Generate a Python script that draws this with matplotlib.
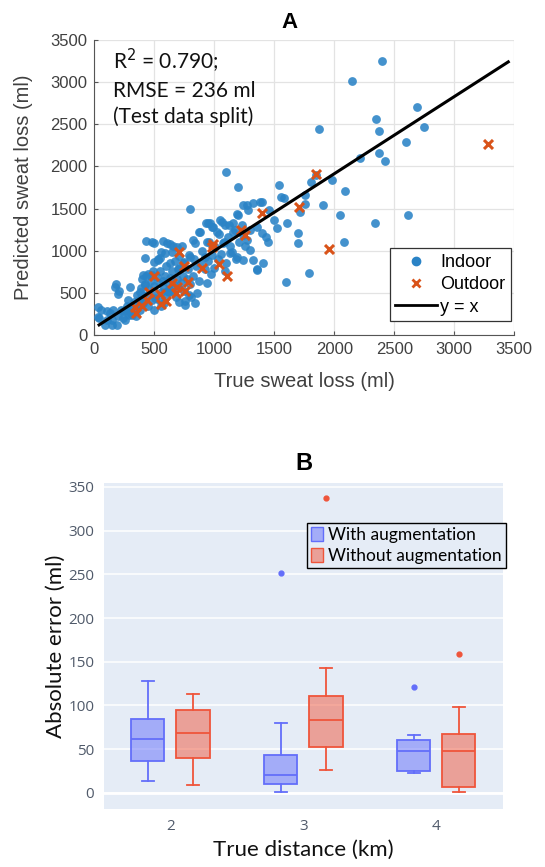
import numpy as np
import matplotlib
matplotlib.use("Agg")
import matplotlib.pyplot as plt
from matplotlib.patches import Patch
from matplotlib.lines import Line2D

# ---- panel A: sweat loss scatter (ml) ----
indoor_x = [30, 35, 40, 60, 90, 105, 110, 130, 150, 150, 160, 175, 180, 190, 200, 210, 200, 220, 240, 250,
            255, 260, 270, 280, 290, 300, 300,
            310, 315, 330, 340, 350, 360, 370, 370, 380, 385, 390, 395, 400, 400, 410, 410, 420, 425, 425,
            430, 435, 440, 450, 450, 460, 470, 480, 480, 485, 490, 495, 500, 500, 500,
            505, 510, 520, 530, 535, 540, 540, 550, 550, 555, 560, 560, 570, 575, 578, 580, 590, 590, 600,
            600, 603, 610, 620, 620, 630, 630, 633, 640, 645, 650, 658, 660, 670, 680, 690, 690, 700, 700,
            703, 703,
            710, 720, 730, 740, 742, 750, 750, 758, 760, 770, 780, 787, 790, 797, 800, 800, 810, 820, 825,
            830, 839, 840, 850, 860, 870, 875, 881, 880, 900, 920, 922, 930, 936, 940, 950, 950, 960, 964,
            970, 978, 980, 990,
            1000, 1010, 1020, 1030, 1040, 1050, 1062, 1060, 1075, 1080, 1089, 1090, 1098, 1100, 1117, 1120,
            1130, 1131, 1150, 1158, 1160, 1172, 1180, 1186, 1190, 1200, 1200, 1210, 1230, 1242, 1242, 1242,
            1260, 1270, 1270, 1283, 1298, 1298, 1325, 1325, 1353, 1353, 1360, 1381, 1395, 1395, 1408, 1430,
            1450, 1458,
            1498, 1520, 1539, 1556, 1580, 1600, 1603, 1698, 1700, 1714, 1756, 1758, 1790, 1803, 1845, 1875,
            1903, 1978, 2048, 2083, 2087, 2145, 2214, 2339, 2348, 2373, 2375, 2400, 2423, 2598, 2614, 2687,
            2748]
indoor_y = [330, 215, 200, 300, 120, 280, 180, 260, 180, 120, 300, 570, 600, 120, 490, 520, 230, 300, 200, 280,
            175, 300, 350, 420, 240, 570, 260,
            330, 240, 390, 300, 230, 470, 360, 410, 300, 510, 560, 470, 665, 450, 380, 710, 600, 590, 910,
            700, 1118, 480, 725, 350, 540, 640, 710, 420, 1105, 760, 1090, 865, 300, 580,
            440, 480, 690, 900, 890, 620, 420, 760, 910, 510, 980, 350, 640, 1118, 380, 560, 700, 970, 820,
            450, 1090, 520, 600, 510, 1080, 680, 850, 520, 980, 760, 1056, 600, 880, 450, 1040, 660, 560, 780,
            790, 395,
            940, 620, 1050, 700, 850, 520, 870, 360, 400, 660, 780, 470, 950, 930, 1500, 600, 450, 700, 1127,
            900, 1088, 380, 820, 500, 640, 1225, 850, 1220, 1000, 780, 930, 1330, 1107, 620, 880, 1325, 1100, 1332,
            720, 1285, 950, 1280,
            800, 1040, 1225, 900, 1200, 1370, 1344, 960, 1088, 1100, 1305, 760, 1937, 860, 1166, 1300,
            1050, 969, 980, 1325, 1220, 1245, 900, 929, 1430, 1752, 1423, 1100, 1300, 1186, 890, 1542,
            1050, 1127, 1542, 1483, 1245, 1008, 890, 1562, 1285, 771, 780, 1581, 1206, 1581, 858, 1160,
            1100, 1483,
            1364, 1265, 1779, 1641, 1620, 630, 1332, 1206, 1087, 1463, 1554, 1661, 740, 1819, 1900, 2440,
            1542, 1839, 1423, 1100, 1712, 3013, 2096, 1332, 2562, 2155, 2424, 3250, 2068, 2293, 1423, 2701,
            2471]
outdoor_x = [3280, 1850, 1705, 1400, 1220, 1260, 1960, 990, 980, 1110, 1040, 900, 710, 750, 760, 780, 690,
             680, 500, 550, 560, 460, 440, 340, 350, 400, 600, 650]
outdoor_y = [2260, 1910, 1520, 1445, 1250, 1190, 1020, 1080, 1040, 700, 845, 790, 985, 820, 520, 630, 570,
             500, 700, 490, 370, 510, 410, 330, 260, 350, 400, 620]
line_x = [40, 3450]
line_y = [120, 3240]

# ---- panel B: absolute error box stats (ml) ----
distances = [2, 3, 4]
aug_whislo = [14, 1, 23]
aug_q1 = [36, 10, 25]
aug_med = [62, 21, 48]
aug_q3 = [84, 43, 61]
aug_whishi = [128, 80, 66]
aug_fliers = [[], [252], [121]]
noaug_whislo = [9, 26, 1]
noaug_q1 = [40, 52, 7]
noaug_med = [68, 83, 48]
noaug_q3 = [95, 111, 67]
noaug_whishi = [113, 143, 98]
noaug_fliers = [[], [337], [159]]

fig = plt.figure(figsize=(5.45, 8.67), dpi=100)

# ================= A =================
ax = fig.add_axes([0.173, 0.6136, 0.7706, 0.3403])
ax.scatter(indoor_x, indoor_y, s=40, color="#2A83C6", alpha=0.88, linewidths=0, label="Indoor", zorder=3)
ax.scatter(outdoor_x, outdoor_y, s=42, marker="x", color="#D95319", linewidths=2.2, label="Outdoor", zorder=4)
ax.plot(line_x, line_y, color="black", linewidth=2.2, label="y = x", zorder=5)
ax.set_xlim(0, 3500)
ax.set_ylim(0, 3500)
ax.set_xticks(np.arange(0, 3501, 500))
ax.set_yticks(np.arange(0, 3501, 500))
ax.grid(True, color="#E3E3E3", linewidth=0.9)
ax.set_axisbelow(True)
for side in ["top", "right"]:
    ax.spines[side].set_visible(False)
for side in ["left", "bottom"]:
    ax.spines[side].set_color("#555555")
ax.tick_params(direction="in", length=3, color="#555555", labelsize=12, labelcolor="#404040", pad=5)
for lab in ax.get_xticklabels() + ax.get_yticklabels():
    lab.set_family("Liberation Sans")
ax.set_xlabel("True sweat loss (ml)", fontsize=14.5, color="#404040", family="Liberation Sans")
ax.set_ylabel("Predicted sweat loss (ml)", fontsize=14.5, color="#404040", family="Liberation Sans")
ax.xaxis.set_label_coords(0.5, -0.125)
ax.yaxis.set_label_coords(-0.145, 0.5)
ax.text(0.045, 0.975, "R$^2$ = 0.790;\nRMSE = 236 ml\n(Test data split)", transform=ax.transAxes,
        ha="left", va="top", fontsize=15, family="Lato", linespacing=1.35, color="#111111")
handles = [Line2D([0], [0], marker="o", linestyle="", color="#2A83C6", markersize=6),
           Line2D([0], [0], marker="x", linestyle="", color="#D95319", markersize=6, markeredgewidth=2),
           Line2D([0], [0], color="black", linewidth=2)]
leg = ax.legend(handles, ["Indoor", "Outdoor", "y = x"], loc="lower right", bbox_to_anchor=(0.992, 0.047),
                borderaxespad=0, labelspacing=0.3, handlelength=2.3, handletextpad=0.2,
                fancybox=False, framealpha=1, edgecolor="#333333", borderpad=0.3,
                prop={"family": "Liberation Sans", "size": 13})
leg.get_frame().set_linewidth(0.9)
fig.text(289 / 545, 1 - 22 / 867, "A", ha="center", va="center", fontsize=16, fontweight="bold",
         family="Liberation Sans")

# ================= B =================
axb = fig.add_axes([0.1908, 0.0666, 0.7316, 0.376])
axb.set_facecolor("#E5ECF6")
blue = "#636EFA"
red = "#EF553B"


def stats(lo, q1, med, q3, hi, fl):
    return [dict(whislo=lo[i], q1=q1[i], med=med[i], q3=q3[i], whishi=hi[i], fliers=fl[i])
            for i in range(len(lo))]


groups = [(stats(aug_whislo, aug_q1, aug_med, aug_q3, aug_whishi, aug_fliers), -0.17, blue),
          (stats(noaug_whislo, noaug_q1, noaug_med, noaug_q3, noaug_whishi, noaug_fliers), 0.17, red)]
for st, off, col in groups:
    fc = matplotlib.colors.to_rgba(col, 0.5)
    axb.bxp(st, positions=[d + off for d in distances], widths=0.25, capwidths=0.09, patch_artist=True,
            boxprops=dict(facecolor=fc, edgecolor=col, linewidth=1.3),
            medianprops=dict(color=col, linewidth=1.3),
            whiskerprops=dict(color=col, linewidth=1.3),
            capprops=dict(color=col, linewidth=1.3),
            flierprops=dict(marker="o", markersize=3.5, markerfacecolor=col, markeredgecolor=col),
            manage_ticks=False, zorder=3)

axb.set_xlim(1.5, 4.5)
axb.set_ylim(-18.6, 354)
axb.set_xticks(distances)
axb.set_xticklabels([str(d) for d in distances])
axb.set_yticks(np.arange(0, 351, 50))
axb.grid(True, axis="y", color="white", linewidth=1.1)
axb.axhline(0, color="white", linewidth=2, zorder=1)
axb.set_axisbelow(True)
for side in axb.spines:
    axb.spines[side].set_visible(False)
axb.tick_params(length=0, labelsize=11, labelcolor="#505a6a", pad=7)
for lab in axb.get_xticklabels() + axb.get_yticklabels():
    lab.set_family("Open Sans")
axb.set_xlabel("True distance (km)", fontsize=16, family="Lato", color="#111111")
axb.set_ylabel("Absolute error (ml)", fontsize=16, family="Lato", color="#111111")
axb.xaxis.set_label_coords(0.5, -0.095)
axb.yaxis.set_label_coords(-0.095, 0.5)
lh = [Patch(facecolor=matplotlib.colors.to_rgba(blue, 0.5), edgecolor=blue, label="With augmentation"),
      Patch(facecolor=matplotlib.colors.to_rgba(red, 0.5), edgecolor=red, label="Without augmentation")]
lb = axb.legend(handles=lh, loc="upper left", bbox_to_anchor=(0.508, 0.879), borderaxespad=0,
                prop={"family": "Lato", "size": 12.5}, fancybox=False, framealpha=1, facecolor="#E5ECF6",
                edgecolor="black", handlelength=0.7, handleheight=0.9, handletextpad=0.3,
                labelspacing=0.25, borderpad=0.25)
lb.get_frame().set_linewidth(1.0)
fig.text(304 / 545, 1 - 463 / 867, "B", ha="center", va="center", fontsize=17, fontweight="bold",
         family="Liberation Sans")

fig.savefig("out.png", dpi=100)
